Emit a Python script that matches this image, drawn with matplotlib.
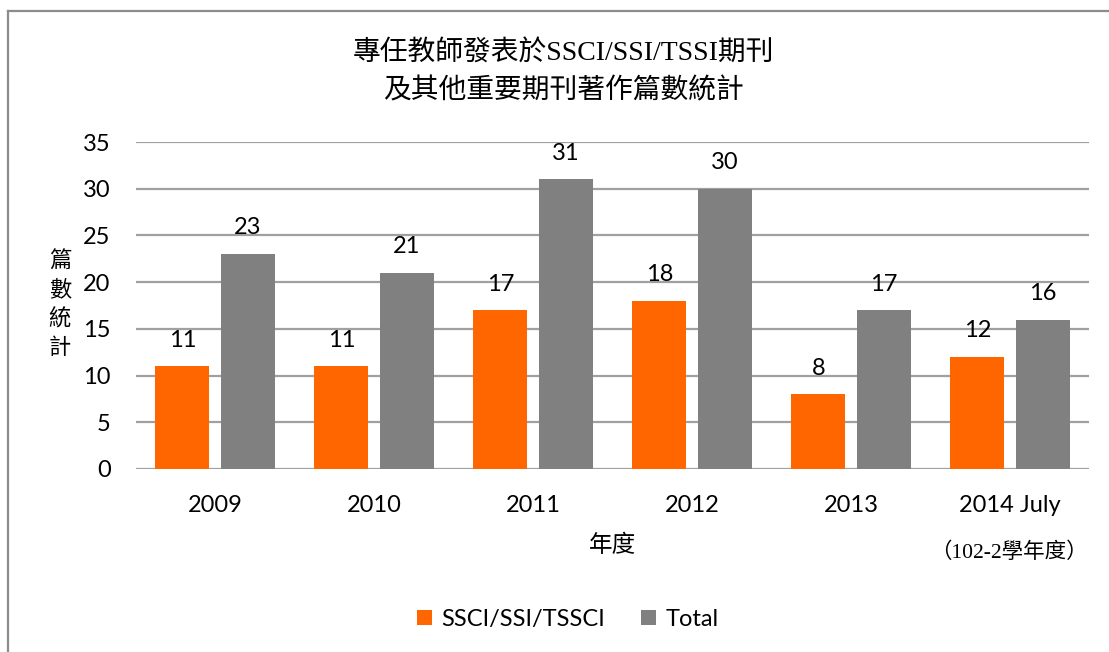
import numpy as np
import matplotlib.pyplot as plt
from matplotlib.lines import Line2D

years = ["2009", "2010", "2011", "2012", "2013", "2014 July"]
ssci = [11, 11, 17, 18, 8, 12]
total = [23, 21, 31, 30, 17, 16]

title = "專任教師發表於SSCI/SSI/TSSI期刊\n及其他重要期刊著作篇數統計"
serif_cjk = ["Liberation Serif", "Noto Sans CJK TC"]
sans = ["Lato", "Noto Sans CJK TC"]

plt.rcParams['font.family'] = sans

fig = plt.figure(figsize=(11.09, 6.52), dpi=100)
ax = fig.add_axes([0.1222, 0.2807, 0.8602, 0.5015])

x = np.arange(len(years))
w = 0.34
off = 0.205
b1 = ax.bar(x - off, ssci, w, color="#FF6600", label="SSCI/SSI/TSSCI", zorder=3)
b2 = ax.bar(x + off, total, w, color="#808080", label="Total", zorder=3)

for bars, vals in ((b1, ssci), (b2, total)):
    for r, v in zip(bars, vals):
        ax.text(r.get_x() + r.get_width() / 2, v + 2.8, str(v),
                ha="center", va="center", fontsize=17, color="#000000")

ax.set_xlim(-0.5, len(years) - 0.5)
ax.set_ylim(0, 35)
ax.set_yticks(range(0, 36, 5))
ax.set_xticks(x)
ax.set_xticklabels(years)
ax.tick_params(axis="both", length=0, labelsize=17, colors="#000000")
ax.tick_params(axis="y", pad=18)
ax.tick_params(axis="x", pad=19)
ax.yaxis.grid(True, color="#a0a0a0", linewidth=1.6, zorder=0)
for s in ax.spines.values():
    s.set_visible(False)

fig.text(0.508, 0.889, title, ha="center", va="center", fontsize=20,
         family=serif_cjk, linespacing=1.6)
fig.text(0.552, 0.163, "年度", ha="center", va="center", fontsize=17,
         family=serif_cjk)
fig.text(0.910, 0.153, "（102-2學年度）", ha="center", va="center", fontsize=15.5,
         family=serif_cjk)
fig.text(0.054, 0.532, "篇\n數\n統\n計", ha="center", va="center", fontsize=16,
         family=serif_cjk, linespacing=1.5)

fig.legend(handles=[b1, b2], loc="center", bbox_to_anchor=(0.512, 0.05),
           ncol=2, frameon=False, fontsize=17, handlelength=0.65,
           handleheight=0.65, handletextpad=0.4, columnspacing=1.5)

fig.add_artist(Line2D([8 / 1109, 8 / 1109], [0, 1 - 11 / 652],
                      transform=fig.transFigure, color="#8c8c8c", linewidth=1.6))
fig.add_artist(Line2D([8 / 1109, 1], [1 - 11 / 652, 1 - 11 / 652],
                      transform=fig.transFigure, color="#8c8c8c", linewidth=1.6))

fig.savefig("out.png", dpi=100)
